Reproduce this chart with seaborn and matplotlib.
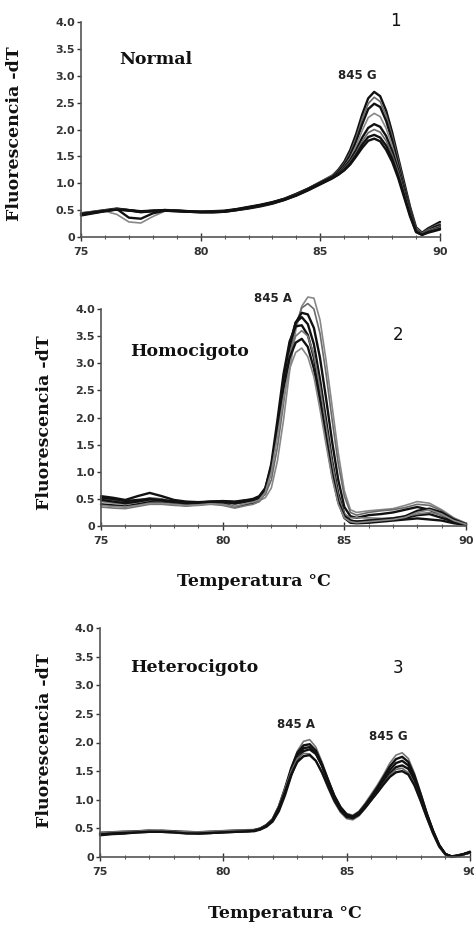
import matplotlib
matplotlib.use("Agg")
import matplotlib.pyplot as plt
import seaborn as sns
import pandas as pd
from matplotlib.ticker import MultipleLocator

sns.set_theme(style="ticks")
plt.rcParams['font.family'] = ['DejaVu Sans']

# ---------------- data ----------------
# Panel 1: Normal (845 G)
temp_normal = [75, 75.5, 76, 76.5, 77, 77.5, 78, 78.5, 79, 79.5, 80, 80.5, 81, 81.5,
               82, 82.5, 83, 83.5, 84, 84.5, 85, 85.5,
               85.75, 86, 86.25, 86.5, 86.75, 87, 87.25, 87.5, 87.75, 88, 88.25, 88.5,
               88.75, 89, 89.25, 89.5, 89.75, 90]
normal_1 = [0.44, 0.47, 0.50, 0.53, 0.50, 0.47, 0.49, 0.50, 0.49, 0.48, 0.47, 0.47, 0.48, 0.51,
            0.55, 0.59, 0.64, 0.71, 0.80, 0.90, 1.02, 1.14,
            1.25, 1.40, 1.62, 1.92, 2.28, 2.58, 2.70, 2.62, 2.35, 1.95, 1.48, 1.02,
            0.56, 0.18, 0.08, 0.16, 0.22, 0.28]
normal_2 = [0.42, 0.46, 0.49, 0.51, 0.49, 0.48, 0.49, 0.51, 0.50, 0.48, 0.46, 0.47, 0.49, 0.52,
            0.56, 0.60, 0.65, 0.72, 0.81, 0.91, 1.03, 1.15,
            1.24, 1.37, 1.57, 1.85, 2.20, 2.48, 2.60, 2.52, 2.26, 1.88, 1.44, 0.98,
            0.54, 0.17, 0.07, 0.14, 0.20, 0.25]
normal_3 = [0.40, 0.44, 0.48, 0.52, 0.50, 0.46, 0.48, 0.50, 0.49, 0.47, 0.46, 0.46, 0.47, 0.50,
            0.53, 0.57, 0.62, 0.69, 0.78, 0.88, 1.00, 1.12,
            1.22, 1.34, 1.52, 1.78, 2.10, 2.38, 2.48, 2.42, 2.16, 1.80, 1.36, 0.92,
            0.50, 0.14, 0.05, 0.12, 0.18, 0.22]
normal_4 = [0.45, 0.47, 0.48, 0.42, 0.28, 0.26, 0.38, 0.48, 0.48, 0.47, 0.46, 0.47, 0.48, 0.51,
            0.55, 0.59, 0.64, 0.70, 0.79, 0.89, 1.01, 1.12,
            1.20, 1.31, 1.47, 1.70, 1.98, 2.22, 2.30, 2.24, 2.02, 1.70, 1.30, 0.88,
            0.48, 0.15, 0.06, 0.12, 0.16, 0.20]
normal_5 = [0.43, 0.46, 0.49, 0.52, 0.36, 0.34, 0.44, 0.49, 0.48, 0.47, 0.47, 0.48, 0.49, 0.52,
            0.56, 0.60, 0.65, 0.71, 0.80, 0.90, 1.01, 1.12,
            1.19, 1.29, 1.43, 1.62, 1.85, 2.03, 2.10, 2.05, 1.88, 1.60, 1.25, 0.86,
            0.46, 0.13, 0.05, 0.10, 0.14, 0.18]
normal_6 = [0.44, 0.47, 0.50, 0.52, 0.50, 0.48, 0.49, 0.50, 0.49, 0.48, 0.47, 0.47, 0.48, 0.50,
            0.54, 0.58, 0.63, 0.70, 0.79, 0.88, 0.99, 1.10,
            1.17, 1.27, 1.40, 1.57, 1.78, 1.94, 2.00, 1.95, 1.79, 1.53, 1.21, 0.83,
            0.44, 0.12, 0.05, 0.10, 0.14, 0.17]
normal_7 = [0.41, 0.45, 0.48, 0.51, 0.49, 0.47, 0.48, 0.49, 0.48, 0.47, 0.46, 0.46, 0.47, 0.50,
            0.54, 0.58, 0.63, 0.69, 0.77, 0.87, 0.98, 1.09,
            1.16, 1.25, 1.37, 1.53, 1.72, 1.86, 1.90, 1.85, 1.70, 1.46, 1.14, 0.78,
            0.41, 0.10, 0.04, 0.09, 0.12, 0.15]
normal_8 = [0.43, 0.46, 0.49, 0.51, 0.50, 0.48, 0.49, 0.50, 0.49, 0.48, 0.47, 0.47, 0.48, 0.51,
            0.55, 0.59, 0.64, 0.70, 0.78, 0.88, 0.99, 1.10,
            1.16, 1.24, 1.35, 1.50, 1.66, 1.79, 1.83, 1.78, 1.62, 1.40, 1.10, 0.74,
            0.38, 0.09, 0.04, 0.08, 0.11, 0.14]
normal_curves = [normal_1, normal_2, normal_3, normal_4, normal_5, normal_6, normal_7, normal_8]

# Panel 2: Homocigoto (845 A)
temp_homo = [75, 75.5, 76, 76.5, 77, 77.5, 78, 78.5, 79, 79.5, 80, 80.5, 81,
             81.25, 81.5, 81.75, 82, 82.25, 82.5, 82.75, 83, 83.25, 83.5, 83.75, 84,
             84.25, 84.5, 84.75, 85, 85.25, 85.5,
             86, 86.5, 87, 87.5, 88, 88.5, 89, 89.5, 90]
homo_1 = [0.45, 0.42, 0.40, 0.44, 0.47, 0.45, 0.42, 0.40, 0.41, 0.43, 0.44, 0.42, 0.44,
          0.45, 0.47, 0.52, 0.70, 1.20, 1.95, 2.85, 3.60, 4.05, 4.22, 4.20, 3.80,
          3.05, 2.20, 1.35, 0.65, 0.30, 0.25,
          0.28, 0.30, 0.32, 0.38, 0.45, 0.42, 0.30, 0.15, 0.05]
homo_2 = [0.50, 0.48, 0.45, 0.47, 0.52, 0.50, 0.45, 0.42, 0.42, 0.44, 0.45, 0.40, 0.45,
          0.47, 0.50, 0.58, 0.85, 1.45, 2.25, 3.10, 3.70, 4.02, 4.10, 4.00, 3.55,
          2.80, 1.95, 1.15, 0.55, 0.25, 0.20,
          0.25, 0.28, 0.30, 0.34, 0.40, 0.38, 0.28, 0.14, 0.05]
homo_3 = [0.55, 0.52, 0.48, 0.55, 0.61, 0.55, 0.48, 0.45, 0.44, 0.45, 0.46, 0.45, 0.48,
          0.50, 0.55, 0.70, 1.10, 1.80, 2.60, 3.30, 3.75, 3.93, 3.90, 3.65, 3.10,
          2.35, 1.55, 0.85, 0.35, 0.18, 0.15,
          0.20, 0.22, 0.25, 0.30, 0.35, 0.30, 0.20, 0.10, 0.03]
homo_4 = [0.40, 0.38, 0.36, 0.40, 0.44, 0.43, 0.40, 0.38, 0.40, 0.42, 0.42, 0.35, 0.40,
          0.42, 0.46, 0.62, 1.05, 1.80, 2.65, 3.35, 3.75, 3.85, 3.72, 3.35, 2.70,
          1.95, 1.20, 0.60, 0.22, 0.10, 0.08,
          0.10, 0.10, 0.12, 0.15, 0.20, 0.22, 0.15, 0.08, 0.03]
homo_5 = [0.52, 0.50, 0.46, 0.48, 0.50, 0.47, 0.44, 0.43, 0.42, 0.43, 0.44, 0.42, 0.45,
          0.46, 0.50, 0.68, 1.15, 1.95, 2.80, 3.40, 3.68, 3.70, 3.52, 3.10, 2.45,
          1.70, 1.00, 0.45, 0.15, 0.06, 0.05,
          0.06, 0.08, 0.10, 0.12, 0.14, 0.12, 0.10, 0.05, 0.02]
homo_6 = [0.35, 0.33, 0.32, 0.36, 0.40, 0.40, 0.38, 0.37, 0.38, 0.40, 0.38, 0.33, 0.38,
          0.40, 0.45, 0.60, 1.00, 1.70, 2.50, 3.15, 3.50, 3.60, 3.50, 3.15, 2.55,
          1.85, 1.15, 0.55, 0.22, 0.15, 0.15,
          0.15, 0.14, 0.15, 0.18, 0.22, 0.25, 0.20, 0.12, 0.04]
homo_7 = [0.48, 0.45, 0.42, 0.45, 0.49, 0.48, 0.45, 0.42, 0.43, 0.45, 0.45, 0.44, 0.47,
          0.48, 0.52, 0.66, 1.08, 1.80, 2.55, 3.10, 3.38, 3.45, 3.30, 2.90, 2.30,
          1.60, 0.95, 0.45, 0.18, 0.10, 0.08,
          0.10, 0.12, 0.14, 0.18, 0.28, 0.32, 0.25, 0.12, 0.03]
homo_8 = [0.38, 0.36, 0.35, 0.38, 0.42, 0.42, 0.40, 0.38, 0.39, 0.41, 0.40, 0.36, 0.42,
          0.44, 0.48, 0.62, 1.00, 1.65, 2.35, 2.90, 3.20, 3.28, 3.12, 2.75, 2.15,
          1.50, 0.88, 0.40, 0.15, 0.08, 0.06,
          0.08, 0.10, 0.12, 0.16, 0.25, 0.30, 0.22, 0.10, 0.03]
homo_curves = [homo_1, homo_2, homo_3, homo_4, homo_5, homo_6, homo_7, homo_8]

# Panel 3: Heterocigoto (845 A + 845 G)
temp_hetero = [75, 75.5, 76, 76.5, 77, 77.5, 78, 78.5, 79, 79.5, 80, 80.5, 81,
               81.25, 81.5, 81.75, 82, 82.25, 82.5, 82.75, 83, 83.25, 83.5,
               83.75, 84, 84.25, 84.5, 84.75, 85, 85.25, 85.5, 85.75, 86,
               86.25, 86.5, 86.75, 87, 87.25, 87.5, 87.75, 88, 88.25, 88.5,
               88.75, 89, 89.25, 89.5, 89.75, 90]
hetero_1 = [0.40, 0.42, 0.43, 0.44, 0.45, 0.45, 0.44, 0.43, 0.42, 0.43, 0.44, 0.45, 0.46,
            0.48, 0.50, 0.55, 0.64, 0.85, 1.18, 1.55, 1.85, 2.02, 2.05,
            1.92, 1.66, 1.36, 1.08, 0.88, 0.76, 0.73, 0.80, 0.94, 1.10,
            1.26, 1.44, 1.64, 1.78, 1.82, 1.72, 1.46, 1.12, 0.77, 0.47,
            0.22, 0.06, 0.01, 0.03, 0.06, 0.10]
hetero_2 = [0.42, 0.43, 0.44, 0.45, 0.46, 0.45, 0.44, 0.44, 0.43, 0.44, 0.45, 0.46, 0.47,
            0.47, 0.50, 0.56, 0.66, 0.88, 1.20, 1.55, 1.82, 1.95, 1.97,
            1.86, 1.62, 1.34, 1.06, 0.86, 0.74, 0.71, 0.78, 0.91, 1.06,
            1.22, 1.40, 1.58, 1.71, 1.75, 1.66, 1.42, 1.10, 0.76, 0.46,
            0.21, 0.05, 0.01, 0.03, 0.05, 0.09]
hetero_3 = [0.38, 0.40, 0.41, 0.43, 0.44, 0.44, 0.43, 0.42, 0.41, 0.42, 0.43, 0.44, 0.45,
            0.46, 0.49, 0.55, 0.65, 0.86, 1.17, 1.50, 1.77, 1.90, 1.92,
            1.82, 1.59, 1.31, 1.04, 0.84, 0.72, 0.69, 0.76, 0.89, 1.03,
            1.18, 1.35, 1.52, 1.64, 1.68, 1.60, 1.38, 1.07, 0.74, 0.45,
            0.20, 0.05, 0.00, 0.02, 0.05, 0.08]
hetero_4 = [0.41, 0.41, 0.42, 0.44, 0.45, 0.46, 0.45, 0.43, 0.42, 0.42, 0.44, 0.45, 0.45,
            0.45, 0.48, 0.53, 0.62, 0.80, 1.08, 1.42, 1.70, 1.85, 1.88,
            1.80, 1.60, 1.33, 1.07, 0.87, 0.74, 0.70, 0.75, 0.87, 1.00,
            1.14, 1.30, 1.46, 1.57, 1.60, 1.54, 1.34, 1.05, 0.73, 0.44,
            0.20, 0.05, 0.01, 0.02, 0.05, 0.08]
hetero_5 = [0.43, 0.44, 0.45, 0.45, 0.47, 0.46, 0.45, 0.44, 0.44, 0.45, 0.46, 0.47, 0.47,
            0.47, 0.50, 0.56, 0.67, 0.90, 1.20, 1.50, 1.72, 1.81, 1.80,
            1.68, 1.46, 1.20, 0.96, 0.78, 0.67, 0.65, 0.72, 0.85, 0.99,
            1.13, 1.28, 1.43, 1.53, 1.55, 1.47, 1.26, 0.98, 0.68, 0.40,
            0.17, 0.04, 0.00, 0.02, 0.04, 0.07]
hetero_6 = [0.39, 0.41, 0.42, 0.43, 0.44, 0.44, 0.43, 0.41, 0.41, 0.42, 0.43, 0.44, 0.45,
            0.46, 0.49, 0.55, 0.65, 0.86, 1.14, 1.44, 1.66, 1.76, 1.78,
            1.68, 1.48, 1.23, 0.99, 0.81, 0.70, 0.68, 0.74, 0.86, 1.00,
            1.13, 1.27, 1.40, 1.48, 1.50, 1.44, 1.25, 0.98, 0.69, 0.42,
            0.19, 0.05, 0.01, 0.02, 0.05, 0.08]
hetero_curves = [hetero_1, hetero_2, hetero_3, hetero_4, hetero_5, hetero_6]

y_ticks = [0, 0.5, 1.0, 1.5, 2.0, 2.5, 3.0, 3.5, 4.0]
y_tick_labels = ["0", "0.5", "1.0", "1.5", "2.0", "2.5", "3.0", "3.5", "4.0"]
x_ticks = [75, 80, 85, 90]
x_tick_labels = ["75", "80", "85", "90"]

# ---------------- figure ----------------
W, H = 474, 925
fig = plt.figure(figsize=(W / 100, H / 100), dpi=100)
fig.patch.set_facecolor("white")


def box(x0, x1, y0, y1):
    return [x0 / W, (H - y1) / H, (x1 - x0) / W, (y1 - y0) / H]


ax1 = fig.add_axes(box(81, 440, 22, 237))
ax2 = fig.add_axes(box(101, 466, 309, 526))
ax3 = fig.add_axes(box(100, 470, 628, 857))

serif = dict(family="DejaVu Serif", weight="bold", color="#111111")


def draw(ax, temps, curves, colors):
    for vals, c in zip(curves, colors):
        df = pd.DataFrame({"T": temps, "F": vals})
        lw = 1.7 if c == "#111111" else 1.2
        sns.lineplot(data=df, x="T", y="F", ax=ax, color=c, linewidth=lw,
                     sort=False, estimator=None)
    for ln in ax.lines:
        ln.set_clip_on(False)
    ax.set_xlim(75, 90)
    ax.set_ylim(0, 4.0)
    ax.set_xticks(x_ticks)
    ax.set_xticklabels(x_tick_labels)
    ax.xaxis.set_minor_locator(MultipleLocator(1))
    ax.set_yticks(y_ticks)
    ax.set_yticklabels(y_tick_labels)
    ax.tick_params(axis="x", which="major", direction="inout", length=6, width=1.0,
                   pad=4.5, labelsize=8, colors="#333333")
    ax.tick_params(axis="x", which="minor", direction="inout", length=3, width=0.8,
                   colors="#555555")
    ax.tick_params(axis="y", which="major", direction="out", length=3, width=1.0,
                   pad=1.2, labelsize=8, colors="#333333")
    for lab in ax.get_xticklabels() + ax.get_yticklabels():
        lab.set_fontweight("bold")
    sns.despine(ax=ax)
    for s in ("left", "bottom"):
        ax.spines[s].set_linewidth(1.2)
        ax.spines[s].set_color("#555555")
    ax.set_xlabel("")
    ax.set_ylabel("Fluorescencia -dT", fontsize=12.5, **serif)
    ax.patch.set_alpha(0)


c8 = ["#111111", "#6a6a6a", "#111111", "#888888", "#111111", "#6a6a6a", "#111111", "#111111"]
draw(ax1, temp_normal, normal_curves, c8)
draw(ax2, temp_homo, homo_curves, ["#888888", "#6a6a6a", "#111111", "#111111",
                                    "#111111", "#777777", "#111111", "#888888"])
draw(ax3, temp_hetero, hetero_curves, ["#777777", "#111111", "#111111", "#111111",
                                        "#6a6a6a", "#111111"])

ax1.yaxis.set_label_coords(-0.162, 0.48)
ax2.yaxis.set_label_coords(-0.132, 0.475)
ax3.yaxis.set_label_coords(-0.127, 0.51)

ax2.set_xlabel("Temperatura °C", fontsize=12.5, **serif)
ax2.xaxis.set_label_coords(0.419, -0.215)
ax3.set_xlabel("Temperatura °C", fontsize=12.5, **serif)
ax3.xaxis.set_label_coords(0.50, -0.21)

# panel texts
ax1.text(76.6, 3.31, "Normal", ha="left", va="center", fontsize=12.5, **serif)
ax2.text(76.19, 3.21, "Homocigoto", ha="left", va="center", fontsize=12.5, **serif)
ax3.text(76.22, 3.31, "Heterocigoto", ha="left", va="center", fontsize=12.5, **serif)

lab = dict(fontsize=8.5, weight="bold", color="#222222", ha="center", va="center")
ax1.text(86.53, 3.01, "845 G", **lab)
ax2.text(82.07, 4.20, "845 A", clip_on=False, **lab)
ax3.text(82.95, 2.31, "845 A", **lab)
ax3.text(86.67, 2.10, "845 G", **lab)

num = dict(fontsize=12, color="#111111", ha="center", va="center", clip_on=False)
ax1.text(88.12, 4.02, "1", **num)
ax2.text(87.2, 3.52, "2", **num)
ax3.text(87.08, 3.30, "3", **num)

fig.savefig("out.png", dpi=100, facecolor="white")
